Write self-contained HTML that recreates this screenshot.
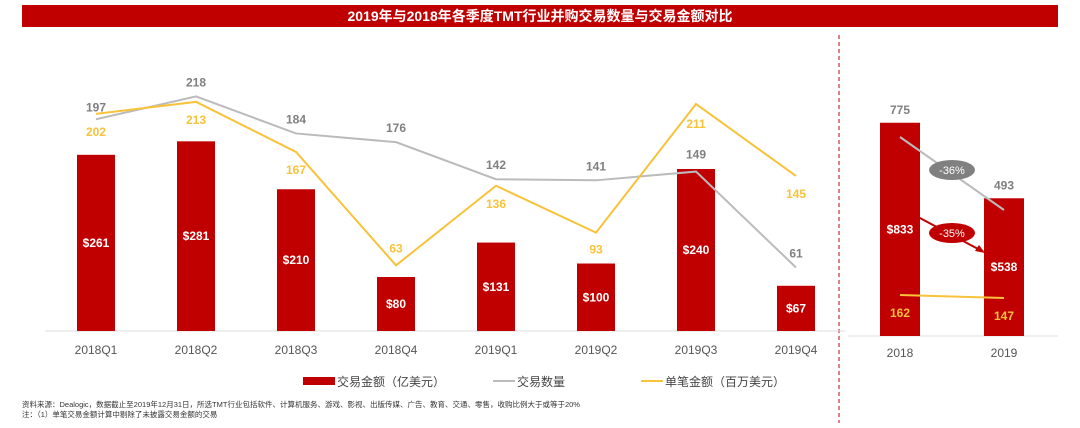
<!DOCTYPE html>
<html><head><meta charset="utf-8"><style>
body{margin:0;background:#fff;width:1080px;height:423px;overflow:hidden;font-family:"Liberation Sans","Noto Sans CJK SC",sans-serif}
</style></head><body>
<svg id="c" width="1080" height="423" xmlns="http://www.w3.org/2000/svg" style="font-family:'Liberation Sans','Noto Sans CJK SC',sans-serif">
<rect x="22" y="5" width="1036" height="22" fill="#c00000"/>
<text x="540" y="21" text-anchor="middle" fill="#fff" font-size="14" font-weight="bold">2019年与2018年各季度TMT行业并购交易数量与交易金额对比</text>
<line x1="839" y1="35" x2="839" y2="423" stroke="#c00000" stroke-dasharray="4,3"/>
<line x1="45" y1="331" x2="845" y2="331" stroke="#ddd"/>
<line x1="848" y1="336" x2="1058" y2="336" stroke="#ddd"/>
<g id="g"></g>
<ellipse cx="952" cy="170" rx="23" ry="10" fill="#808080"/>
<text x="952" y="174" text-anchor="middle" fill="#fff" font-size="11">-36%</text>
<line x1="918" y1="217" x2="980" y2="250" stroke="#c00000" stroke-width="2"/>
<polygon points="985,253 975,251 979,245" fill="#c00000"/>
<ellipse cx="952" cy="233" rx="23" ry="10" fill="#c00000"/>
<text x="952" y="237" text-anchor="middle" fill="#fff" font-size="11">-35%</text>
<rect x="303" y="377" width="32" height="8" fill="#c00000"/>
<text x="337" y="386" font-size="12" fill="#444">交易金额（亿美元）</text>
<line x1="493" y1="381" x2="515" y2="381" stroke="#bbb" stroke-width="2"/>
<text x="517" y="386" font-size="12" fill="#444">交易数量</text>
<line x1="641" y1="381" x2="663" y2="381" stroke="#f8c23a" stroke-width="2"/>
<text x="665" y="386" font-size="12" fill="#444">单笔金额（百万美元）</text>
<text x="22" y="407" font-size="7.5" fill="#333">资料来源：Dealogic，数据截止至2019年12月31日，所选TMT行业包括软件、计算机服务、游戏、影视、出版传媒、广告、教育、交通、零售，收购比例大于或等于20%</text>
<text x="22" y="417" font-size="7.5" fill="#333">注：（1）单笔交易金额计算中剔除了未披露交易金额的交易</text>
</svg>
<script>
const cats=["2018Q1","2018Q2","2018Q3","2018Q4","2019Q1","2019Q2","2019Q3","2019Q4"];
const amounts=[261,281,210,80,131,100,240,67];
const counts=[197,218,184,176,142,141,149,61];
const avgs=[202,213,167,63,136,93,211,145];
const yearCats=["2018","2019"];
const yearAmounts=[833,538];
const yearCounts=[775,493];
const yearAvgs=[162,147];
const NS="http://www.w3.org/2000/svg";
const g=document.getElementById('g');
function mk(t,a){const e=document.createElementNS(NS,t);for(const k in a)e.setAttribute(k,a[k]);g.appendChild(e);return e;}
function txt(x,y,s,fill,size,bold){const e=mk('text',{x:x,y:y,'text-anchor':'middle',fill:fill,'font-size':size,'font-weight':bold?'bold':'normal'});e.textContent=s;return e;}
const xL=i=>96+i*100, yBar=v=>331-v*0.675, yLine=v=>334-v*1.09;
const cOff=[-8,-10,-10,-10,-10,-10,-13,-10];
const aOff=[22,22,22,-13,22,21,24,22];
cats.forEach((c,i)=>{
 const r=mk('rect',{x:xL(i)-19,y:yBar(amounts[i]),width:38,height:331-yBar(amounts[i]),fill:'#c00000'});
 
 
 const t=txt(xL(i),(yBar(amounts[i])+331)/2+4,'$'+amounts[i],'#fff',12,true);
 
 
 const x=txt(xL(i),354,c,'#555',12,false);
 
 
});
const pc=counts.map((v,i)=>xL(i)+','+yLine(v)).join(' ');
const pa=avgs.map((v,i)=>xL(i)+','+yLine(v)).join(' ');
const l1=mk('polyline',{points:pc,fill:'none',stroke:'#bbb','stroke-width':2});


const l2=mk('polyline',{points:pa,fill:'none',stroke:'#f8c23a','stroke-width':2});


cats.forEach((c,i)=>{
 const a=txt(xL(i),yLine(counts[i])+cOff[i],counts[i],'#7f7f7f',12,true);
 
 
 const b=txt(xL(i),yLine(avgs[i])+aOff[i],avgs[i],'#f8c23a',12,true);
 
 
});
const xR=i=>900+i*104, yRB=v=>336-v*0.256;
const yRC=v=>137+(775-v)*(73/282), yRA=v=>295+(162-v)*0.2;
yearCats.forEach((c,i)=>{
 const r=mk('rect',{x:xR(i)-20,y:yRB(yearAmounts[i]),width:40,height:336-yRB(yearAmounts[i]),fill:'#c00000'});
 
 
 const t=txt(xR(i),(yRB(yearAmounts[i])+336)/2+4,'$'+yearAmounts[i],'#fff',12,true);
 
 
 const x=txt(xR(i),357,c,'#555',12,false);
 
 
 const a=txt(xR(i),yRB(yearAmounts[i])-9,yearCounts[i],'#7f7f7f',12,true);
 
 
 const b=txt(xR(i),yRA(yearAvgs[i])+22,yearAvgs[i],'#f8c23a',12,true);
 
 
});
const l3=mk('line',{x1:xR(0),y1:yRC(yearCounts[0]),x2:xR(1),y2:yRC(yearCounts[1]),stroke:'#bbb','stroke-width':2});


const l4=mk('line',{x1:xR(0),y1:yRA(yearAvgs[0]),x2:xR(1),y2:yRA(yearAvgs[1]),stroke:'#f8c23a','stroke-width':2});


</script>
</body></html>
